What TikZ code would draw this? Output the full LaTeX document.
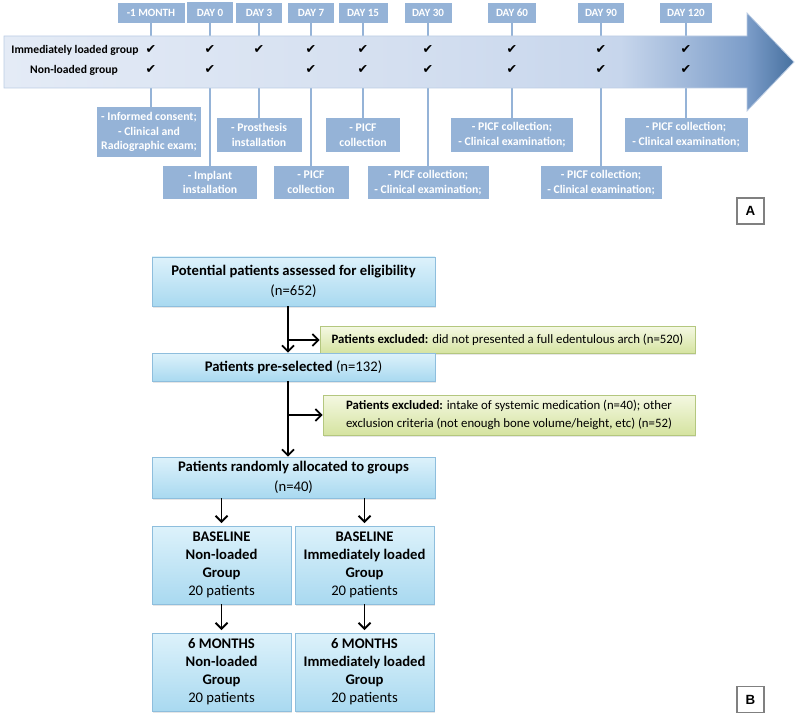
\documentclass[tikz,border=0pt]{standalone}
\usepackage{fontspec}
\setmainfont{Carlito}
\newfontfamily\checkfont{DejaVu Sans}
\newfontfamily\panelfont{Liberation Sans}
\usepackage{tikz}
\usetikzlibrary{arrows.meta}
\usetikzlibrary{shadows}

\definecolor{HdrBlue}{HTML}{95B3D7}
\definecolor{BandA}{HTML}{E4EBF6}
\definecolor{BandB}{HTML}{D4DFF0}
\definecolor{BandC}{HTML}{C7D6EC}
\definecolor{BandD}{HTML}{7C9DC9}
\definecolor{BandE}{HTML}{46709F}
\definecolor{BandLine}{HTML}{BCCDE4}
\definecolor{BoxTop}{HTML}{DDF2FB}
\definecolor{BoxBot}{HTML}{A9D9F0}
\definecolor{BoxLine}{HTML}{8EBEDD}
\definecolor{GreenTop}{HTML}{F4F8E2}
\definecolor{GreenBot}{HTML}{D5E3A0}
\definecolor{GreenLine}{HTML}{B4C77F}

\pgfdeclarehorizontalshading{bandshade}{100bp}{color(0bp)=(BandA); color(25bp)=(BandA); color(50bp)=(BandB); color(64bp)=(BandC); color(72bp)=(BandD); color(75bp)=(BandE); color(100bp)=(BandE)}

\begin{document}
\begin{tikzpicture}[x = 0.75pt, y = -0.75pt,
    boxwh/.style 2 args = {minimum width = #1*0.75pt, minimum height = #2*0.75pt},
    hdr/.style = {fill = HdrBlue, text = white, inner sep = 0pt, font = \fontsize{8.3}{9}\selectfont\bfseries},
    note/.style = {fill = HdrBlue, text = white, inner sep = 0pt, align = center, font = \fontsize{8.8}{11}\selectfont\bfseries},
    link/.style = {HdrBlue, line width = 0.8pt},
    rowlab/.style = {inner sep = 0pt, font = \fontsize{8.7}{9}\selectfont\bfseries},
    tick/.style = {inner sep = 0pt, font = \checkfont\fontsize{9.5}{10}\selectfont},
    stage/.style = {draw = BoxLine, top color = BoxTop, bottom color = BoxBot, inner sep = 0pt, align = center, font = \fontsize{11}{14.5}\selectfont, drop shadow = {opacity = 0.2, shadow xshift = 1pt, shadow yshift = -1.2pt}},
    excl/.style = {stage, draw = GreenLine, top color = GreenTop, bottom color = GreenBot, font = \fontsize{9.6}{13.5}\selectfont},
    arm/.style = {stage, font = \fontsize{11}{13.5}\selectfont},
    flow/.style = {line width = 1.4pt, -{Straight Barb[length = 4.5pt, width = 9pt]}},
    panel/.style = {draw = gray, line width = 1pt, inner sep = 0pt, boxwh = {27}{26}, font = \panelfont\bfseries\fontsize{10}{10}\selectfont}]
    \useasboundingbox (0, 0) rectangle (798, 716);

    % timeline (A)
    \node [hdr, boxwh = {67}{20}] (m1) at (151, 13) {-1 MONTH};
    \node [hdr, boxwh = {46}{21}] (d0) at (210, 12.5) {DAY 0};
    \node [hdr, boxwh = {46}{20}] (d3) at (259, 13) {DAY 3};
    \node [hdr, boxwh = {46}{20}] (d7) at (311, 13) {DAY 7};
    \node [hdr, boxwh = {49}{20}] (d15) at (363, 13) {DAY 15};
    \node [hdr, boxwh = {47}{20}] (d30) at (428, 13) {DAY 30};
    \node [hdr, boxwh = {48}{20}] (d60) at (512, 13) {DAY 60};
    \node [hdr, boxwh = {46}{20}] (d90) at (601, 13) {DAY 90};
    \node [hdr, boxwh = {52}{20}] (d120) at (686, 13) {DAY 120};

    \node [note, boxwh = {104}{50}] (b1) at (149, 132) {- Informed consent;\\ - Clinical and\\ Radiographic exam;};
    \node [note, boxwh = {94}{33}] (b2) at (210, 182.5) {- Implant\\ installation};
    \node [note, boxwh = {85}{34}] (b3) at (259, 135) {- Prosthesis\\ installation};
    \node [note, boxwh = {75}{33}] (b4) at (311, 182.5) {- PICF\\ collection};
    \node [note, boxwh = {74}{34}] (b5) at (363, 135) {- PICF\\ collection};
    \node [note, boxwh = {121}{33}] (b6) at (428, 182.5) {- PICF collection;\\ - Clinical examination;};
    \node [note, boxwh = {122}{34}] (b7) at (512, 135) {- PICF collection;\\ - Clinical examination;};
    \node [note, boxwh = {121}{33}] (b8) at (601, 182.5) {- PICF collection;\\ - Clinical examination;};
    \node [note, boxwh = {123}{34}] (b9) at (686, 135) {- PICF collection;\\ - Clinical examination;};

    \foreach \h/\b in {m1/b1, d0/b2, d3/b3, d7/b4, d15/b5, d30/b6, d60/b7, d90/b8, d120/b9}
        \draw [link] (\h.south) -- (\h.south |- \b.north);

    \shade [shading = bandshade, draw = BandLine, line width = 0.6pt] (4, 36) -- (747, 36) -- (747, 13) -- (794, 62) -- (747, 111) -- (747, 88) -- (4, 88) -- cycle;

    \node [rowlab] (imm) at (75, 50) {Immediately loaded group};
    \node [rowlab] (non) at (74, 70) {Non-loaded group};
    \foreach \x in {151, 210, 259, 311, 363, 428, 512, 601, 686}
        \node [tick] (ti\x) at (\x, 50) {✔};
    \foreach \x in {151, 210, 311, 363, 428, 512, 601, 686}
        \node [tick] (tn\x) at (\x, 70) {✔};

    \node [panel] (pa) at (750.5, 211) {A};

    % flow chart (B)
    \node [stage, boxwh = {283}{49}] (p1) at (293.5, 281.5) {\textbf{Potential patients assessed for eligibility}\\ (n=652)};
    \node [excl, boxwh = {375}{27}] (e1) at (507.5, 340) {\textbf{Patients excluded:} did not presented a full edentulous arch (n=520)};
    \node [stage, boxwh = {283}{28}] (p2) at (293.5, 367) {\textbf{Patients pre-selected} (n=132)};
    \node [excl, boxwh = {372}{40}] (e2) at (509, 415) {\textbf{Patients excluded:} intake of systemic medication (n=40); other\\ exclusion criteria (not enough bone volume/height, etc) (n=52)};
    \node [stage, boxwh = {283}{41}] (p3) at (293.5, 477.5) {\textbf{Patients randomly allocated to groups}\\ (n=40)};
    \node [arm, boxwh = {139}{78}] (q1) at (221.5, 565) {\textbf{BASELINE}\\ \textbf{Non-loaded}\\ \textbf{Group}\\ 20 patients};
    \node [arm, boxwh = {139}{78}] (q2) at (364.5, 565) {\textbf{BASELINE}\\ \textbf{Immediately loaded}\\ \textbf{Group}\\ 20 patients};
    \node [arm, boxwh = {139}{78}] (r1) at (221.5, 672) {\textbf{6 MONTHS}\\ \textbf{Non-loaded}\\ \textbf{Group}\\ 20 patients};
    \node [arm, boxwh = {139}{78}] (r2) at (364.5, 672) {\textbf{6 MONTHS}\\ \textbf{Immediately loaded}\\ \textbf{Group}\\ 20 patients};

    \coordinate (trunk) at (288, 0);
    \draw [flow] (trunk |- p1.south) -- (trunk |- p2.north);
    \draw [flow] (trunk |- e1.west) -- (e1.west);
    \draw [flow] (trunk |- p2.south) -- (trunk |- p3.north);
    \draw [flow] (trunk |- e2.west) -- (e2.west);
    \draw [flow, shorten > = 2pt] (p3.south -| q1) -- (q1);
    \draw [flow, shorten > = 2pt] (p3.south -| q2) -- (q2);
    \draw [flow, shorten > = 2pt] (q1) -- (r1);
    \draw [flow, shorten > = 2pt] (q2) -- (r2);

    \node [panel] (pb) at (750.5, 699.5) {B};
\end{tikzpicture}
\end{document}
